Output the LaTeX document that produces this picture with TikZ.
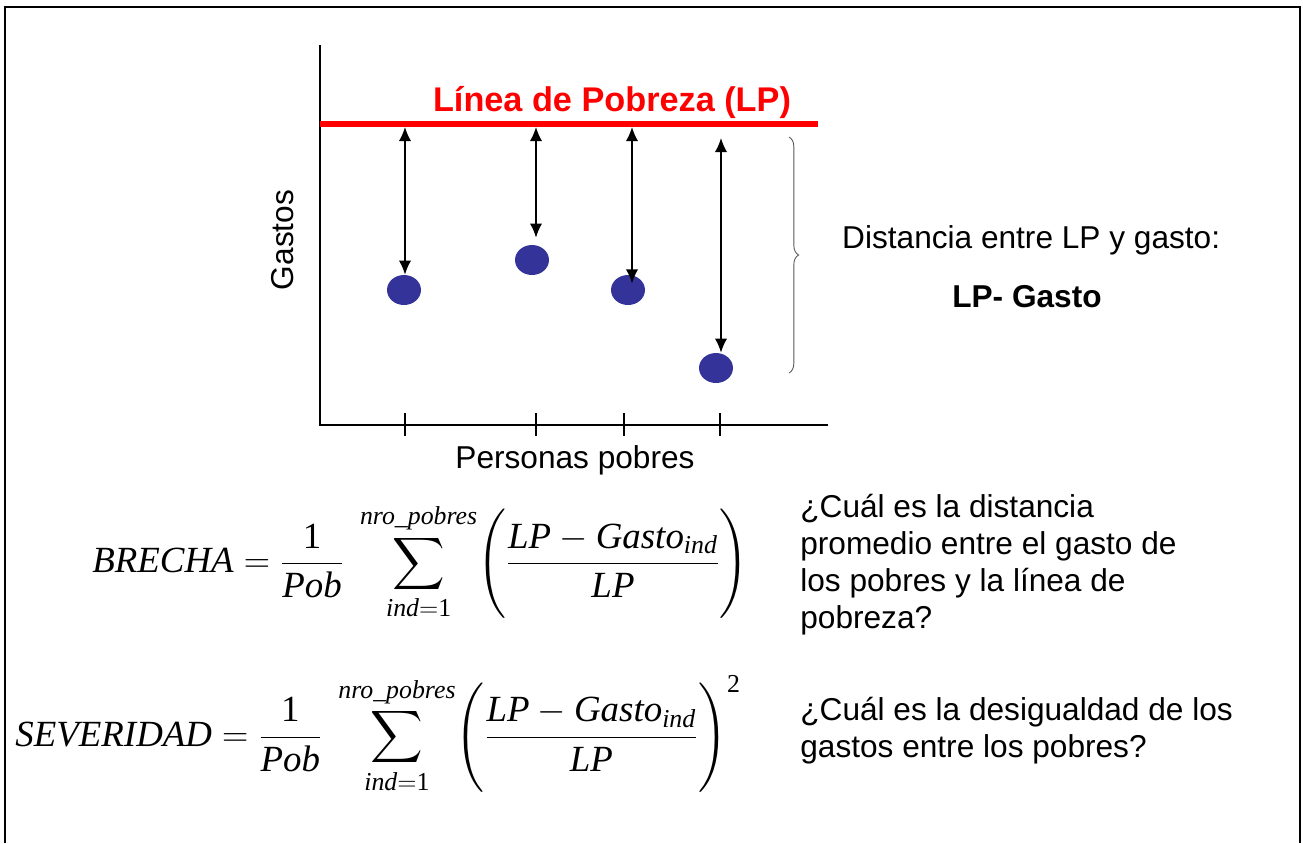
\documentclass[tikz,border=0pt]{standalone}
\usepackage[no-math]{fontspec}
\setmainfont{Liberation Sans}
\newfontfamily\serifit{Liberation Serif}
\usepackage{amsmath}
\usetikzlibrary{arrows.meta,decorations.pathreplacing,shapes.geometric}
\definecolor{dotblue}{RGB}{51,51,153}
\newcommand{\txt}{\fontsize{18}{21}\selectfont}
\newcommand{\mth}{\fontsize{21}{25}\selectfont}
\newcommand{\vr}[1]{\text{\serifit\itshape #1}}
\newcommand{\nm}[1]{\text{\serifit #1}}
\tikzset{
  dot/.style={ellipse,fill=dotblue,inner sep=0pt,minimum width=0.68cm,minimum height=0.6cm},
  gap/.style={{Latex[length=8pt,width=7pt]}-{Latex[length=8pt,width=7pt]},line width=0.9pt},
  tick/.style={line width=1.6pt}
}

\begin{document}
\begin{tikzpicture}[x=0.02cm,y=-0.02cm]
   \useasboundingbox (0,0) rectangle (1303,843);
   \draw[line width=1.2pt] (5,843) -- (5,7) -- (1300,7) -- (1300,843);
   \draw[line width=0.9pt] (320,45) -- (320,425) -- (828,425);
   \foreach \x in {405,536,624,720}
      \draw[tick] (\x,413) -- (\x,436);
   \draw[red,line width=3.4pt] (320,124) -- (818,124);
   \node[red,font=\bfseries\fontsize{19.5}{22}\selectfont] (titulo) at (612,102) {Línea de Pobreza (LP)};
   \node[dot] (d1) at (404,290) {};
   \node[dot] (d2) at (532,260) {};
   \node[dot] (d3) at (628,290) {};
   \node[dot] (d4) at (716,368) {};
   \coordinate (t1) at (405,127);
   \coordinate (t2) at (536,127);
   \coordinate (t3) at (632,127);
   \coordinate (t4) at (721,138);
   \draw[gap] (t1) -- (t1 |- d1.north);
   \draw[gap] (t2) -- ([yshift=4pt]t2 |- d2.north);
   \draw[gap] (t3) -- ([yshift=-5pt]t3 |- d3.north);
   \draw[gap] (t4) -- (t4 |- d4.north);
   \draw[decorate,decoration={brace,amplitude=5.5pt},gray!70!black,line width=0.5pt] (789,137) -- (789,373);
   \node[font=\txt,rotate=90] (gastos) at (283,240) {Gastos};
   \node[font=\txt] (personas) at (575,460) {Personas pobres};
   \node[font=\txt,anchor=west] (dist) at (836,240) {Distancia entre LP y gasto:};
   \node[font=\txt\bfseries] (lpgasto) at (1027,297) {LP- Gasto};
   \node[font=\mth,anchor=west,inner sep=0pt] (brecha) at (92,562)
      {$\displaystyle \vr{BRECHA}=\frac{\nm{1}}{\vr{Pob}}\;\sum\limits_{\vr{ind}=\nm{1}}^{\vr{nro\_pobres}}\Biggl(\frac{\vr{LP}-\vr{Gasto}_{\vr{ind}}}{\vr{LP}}\Biggr)$};
   \node[font=\mth,anchor=west,inner sep=0pt] (severidad) at (15,735)
      {$\displaystyle \vr{SEVERIDAD}=\frac{\nm{1}}{\vr{Pob}}\;\sum\limits_{\vr{ind}=\nm{1}}^{\vr{nro\_pobres}}\Biggl(\frac{\vr{LP}-\vr{Gasto}_{\vr{ind}}}{\vr{LP}}\Biggr)^{\nm{2}}$};
   \node[font=\txt,anchor=north west,align=left,inner sep=0pt] (preg1) at (800,494)
      {¿Cuál es la distancia\\promedio entre el gasto de\\los pobres y la línea de\\pobreza?};
   \node[font=\txt,anchor=north west,align=left,inner sep=0pt] (preg2) at (800,697)
      {¿Cuál es la desigualdad de los\\gastos entre los pobres?};
\end{tikzpicture}
\end{document}
